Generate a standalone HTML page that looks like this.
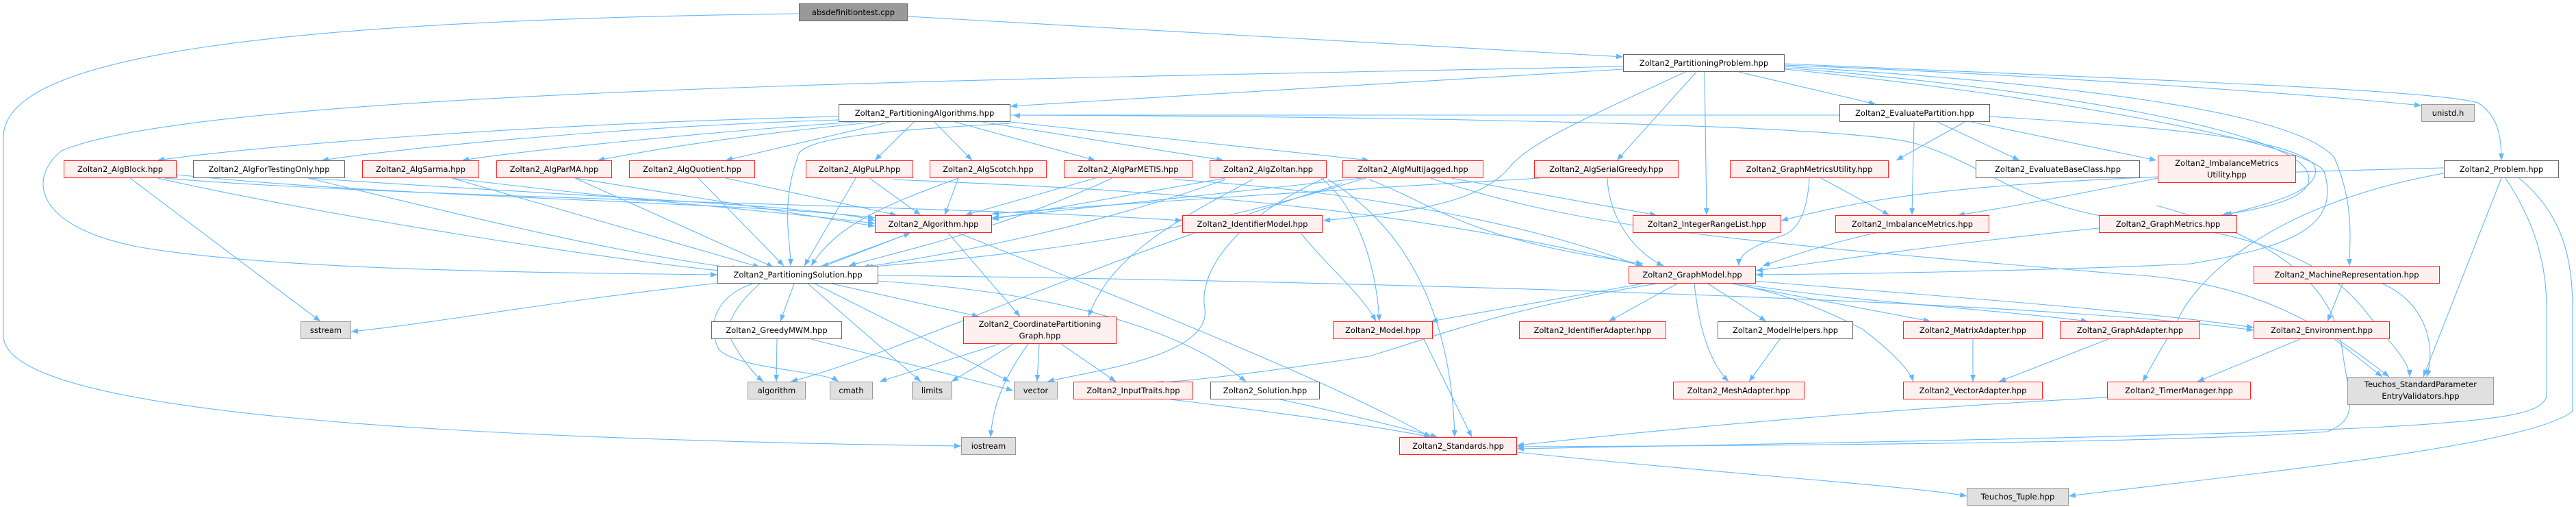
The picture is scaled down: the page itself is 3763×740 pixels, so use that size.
<!DOCTYPE html>
<html><head><meta charset="utf-8"><style>
html,body{margin:0;padding:0;background:#fff;}
#c{position:relative;width:3763px;height:740px;overflow:hidden;font-family:"DejaVu Sans","Liberation Sans",sans-serif;font-size:11.5px;color:#000;}
.n{position:absolute;box-sizing:border-box;height:26px;line-height:24px;text-align:center;white-space:nowrap;border:1.3px solid #666;background:#fff;}
.r{border-color:#ff2020;background:#fff0f0;}
.g{border-color:#999;background:#e0e0e0;}
.d{border-color:#666;background:#999;}
.t{height:40px;line-height:17px;padding-top:2px;}
svg{position:absolute;left:0;top:0;}
</style></head><body><div id="c">
<svg width="3763" height="740" viewBox="0 0 3763 740">
<defs><marker id="a" viewBox="0 0 10 10" refX="10" refY="5" markerWidth="10" markerHeight="10" markerUnits="userSpaceOnUse" orient="auto"><path d="M0,1 L10,5 L0,9 z" fill="#63b8ff"/></marker></defs>
<g fill="none" stroke="#63b8ff" stroke-width="1.1" marker-end="url(#a)">
<path d="M1326 24 L2371 83"/>
<path d="M1167 20 C400 30 5 80 5 200 L5 490 C5 600 600 640 1404 651"/>
<path d="M2371 97 C1500 115 300 130 90 220 C40 260 50 330 200 360 C400 395 800 398 1048 401"/>
<path d="M2371 101 L1476 155"/>
<path d="M2540 105 L2740 152"/>
<path d="M2478 105 L2362 234"/>
<path d="M2490 105 L2493 314"/>
<path d="M2462 105 C2300 180 2230 210 2200 250 C2150 300 2050 310 1933 322"/>
<path d="M2607 95 C3000 110 3400 140 3537 154"/>
<path d="M2607 93 C3100 115 3550 130 3620 150 C3650 170 3654 200 3654 234"/>
<path d="M2607 97 C3000 120 3350 160 3410 230 C3440 300 3432 350 3432 388"/>
<path d="M2607 99 C3000 130 3340 190 3370 250 C3390 290 3300 305 3245 314"/>
<path d="M2607 101 C3000 140 3370 210 3395 250 C3420 330 3350 360 3200 385 C3000 395 2700 400 2565 401"/>
<path d="M1225 170 C800 180 400 210 230 234"/>
<path d="M1225 175 C900 185 600 215 470 234"/>
<path d="M1250 178 C1000 195 750 222 675 234"/>
<path d="M1280 178 C1050 200 920 225 873 234"/>
<path d="M1300 178 L1060 234"/>
<path d="M1335 178 L1278 234"/>
<path d="M1365 178 L1420 234"/>
<path d="M1395 178 L1600 234"/>
<path d="M1435 178 L1787 234"/>
<path d="M1476 178 L2000 234"/>
<path d="M1476 180 C1300 190 1165 200 1165 230 C1140 300 1155 350 1155 388"/>
<path d="M1476 168 C2000 170 2700 180 2800 210 C2900 240 2950 300 3100 320 C3300 340 3400 380 3460 460 C3500 510 3520 530 3520 550"/>
<path d="M2687 168 C2000 165 1500 170 1480 168"/>
<path d="M2870 178 L2770 234"/>
<path d="M2796 178 L2793 314"/>
<path d="M2830 178 L2950 234"/>
<path d="M2870 176 L3150 234"/>
<path d="M2907 170 C3150 185 3340 200 3380 240 C3400 280 3300 300 3250 314"/>
<path d="M2643 260 C2640 320 2620 340 2600 345 C2560 360 2540 370 2540 388"/>
<path d="M2660 260 L2760 314"/>
<path d="M3152 260 C3000 290 2920 305 2860 314"/>
<path d="M2740 340 C2650 360 2600 380 2575 388"/>
<path d="M3066 333 C2800 360 2650 385 2565 395"/>
<path d="M258 255 C600 290 1100 295 1278 318"/>
<path d="M230 260 C500 320 900 380 1060 396"/>
<path d="M240 260 C600 290 1400 300 1727 322"/>
<path d="M190 260 L468 469"/>
<path d="M450 260 C900 290 1200 300 1278 322"/>
<path d="M450 260 C700 320 900 370 1080 392"/>
<path d="M660 260 C900 290 1150 310 1278 326"/>
<path d="M660 260 L1110 390"/>
<path d="M840 260 C1000 285 1150 310 1278 330"/>
<path d="M840 260 L1130 390"/>
<path d="M1060 260 L1310 314"/>
<path d="M1020 260 L1145 388"/>
<path d="M1250 260 L1175 388"/>
<path d="M1270 260 L1345 314"/>
<path d="M1305 262 C1600 275 2000 290 2400 388"/>
<path d="M1400 260 L1380 314"/>
<path d="M1400 260 C1290 300 1220 330 1185 388"/>
<path d="M1600 260 L1410 314"/>
<path d="M1625 260 C1450 340 1300 370 1240 388"/>
<path d="M1715 262 C2000 280 2250 330 2400 390"/>
<path d="M1790 260 L1449 320"/>
<path d="M1790 262 C1600 330 1400 370 1260 390"/>
<path d="M1830 262 C1700 330 1620 380 1590 462"/>
<path d="M1930 260 C1980 300 2010 380 2015 469"/>
<path d="M1935 260 C1800 320 1750 400 1760 450 C1770 520 1600 540 1530 557"/>
<path d="M1940 262 C2050 330 2120 450 2125 638"/>
<path d="M1990 260 L1449 318"/>
<path d="M1995 260 C1700 350 1500 370 1265 390"/>
<path d="M2120 260 L2420 314"/>
<path d="M2090 260 C2300 330 2500 350 3100 400 C3300 410 3400 480 3490 550"/>
<path d="M1960 268 C1600 380 1300 520 1155 557"/>
<path d="M2000 262 C2100 300 2140 350 2400 385"/>
<path d="M2250 260 C1900 280 1600 300 1449 312"/>
<path d="M2348 260 C2350 320 2390 370 2430 388"/>
<path d="M1385 340 L1490 462"/>
<path d="M1400 340 C1700 460 1950 560 2090 638"/>
<path d="M1330 340 L1200 390"/>
<path d="M1200 388 L1330 340"/>
<path d="M1110 414 C1080 440 1060 470 1065 490 C1080 520 1100 545 1115 557"/>
<path d="M1100 414 C1050 430 1030 470 1050 510 C1080 540 1200 540 1225 557"/>
<path d="M1160 414 L1140 469"/>
<path d="M1180 414 L1345 557"/>
<path d="M1190 414 L1475 557"/>
<path d="M1215 414 L1430 462"/>
<path d="M1280 410 C1600 430 1750 500 1820 557"/>
<path d="M1283 402 C2000 410 3000 440 3292 482"/>
<path d="M1060 412 C800 440 650 470 513 484"/>
<path d="M1135 495 L1134 557"/>
<path d="M1185 495 L1480 570"/>
<path d="M1460 502 L1285 557"/>
<path d="M1480 502 L1390 557"/>
<path d="M1518 502 L1515 557"/>
<path d="M1550 502 L1630 557"/>
<path d="M1502 502 C1460 560 1450 600 1447 638"/>
<path d="M1710 583 C1850 600 2000 620 2090 638"/>
<path d="M1870 583 C1950 600 2030 620 2100 638"/>
<path d="M1900 340 C1940 390 1990 430 2010 469"/>
<path d="M2080 495 L2150 638"/>
<path d="M2400 414 L2090 469"/>
<path d="M2420 414 C2200 450 2100 490 2000 520 C1800 550 1700 560 1690 557"/>
<path d="M2450 414 L2350 469"/>
<path d="M2475 414 C2480 460 2490 520 2525 557"/>
<path d="M2495 414 L2580 469"/>
<path d="M2530 414 L2820 469"/>
<path d="M2540 414 C2700 440 2900 450 3050 469"/>
<path d="M2530 414 C2620 430 2680 460 2720 480 C2760 510 2790 540 2795 557"/>
<path d="M2560 410 C2800 430 3100 450 3292 478"/>
<path d="M2600 495 L2555 557"/>
<path d="M2882 495 L2882 557"/>
<path d="M3080 495 L2920 557"/>
<path d="M3422 414 L3400 469"/>
<path d="M3480 414 C3540 440 3560 500 3545 550"/>
<path d="M3360 495 L3210 557"/>
<path d="M3410 495 L3480 550"/>
<path d="M3078 580 C2700 600 2400 630 2216 650"/>
<path d="M3570 245 C3000 260 2800 270 2602 322"/>
<path d="M3575 252 C3300 300 3200 420 3180 470 C3150 520 3140 540 3130 557"/>
<path d="M3654 260 L3540 550"/>
<path d="M3660 260 C3700 320 3720 380 3720 450 L3720 580 C3700 620 3600 630 2216 655"/>
<path d="M3680 260 C3740 310 3758 370 3758 450 L3758 600 C3700 650 3300 690 3022 724"/>
<path d="M3150 300 C3300 340 3400 400 3420 500 C3430 580 3450 610 3400 630 C3200 645 2700 650 2216 652"/>
<path d="M2216 660 C2500 690 2800 710 2873 724"/>
</g></svg>
<div class="n d" style="left:1167px;top:5px;width:159px">absdefinitiontest.cpp</div>
<div class="n" style="left:2371px;top:79px;width:236px">Zoltan2_PartitioningProblem.hpp</div>
<div class="n" style="left:1225px;top:152px;width:251px">Zoltan2_PartitioningAlgorithms.hpp</div>
<div class="n" style="left:2687px;top:152px;width:220px">Zoltan2_EvaluatePartition.hpp</div>
<div class="n g" style="left:3537px;top:152px;width:78px">unistd.h</div>
<div class="n r" style="left:93px;top:234px;width:165px">Zoltan2_AlgBlock.hpp</div>
<div class="n" style="left:282px;top:234px;width:222px">Zoltan2_AlgForTestingOnly.hpp</div>
<div class="n r" style="left:529px;top:234px;width:171px">Zoltan2_AlgSarma.hpp</div>
<div class="n r" style="left:725px;top:234px;width:169px">Zoltan2_AlgParMA.hpp</div>
<div class="n r" style="left:919px;top:234px;width:184px">Zoltan2_AlgQuotient.hpp</div>
<div class="n r" style="left:1177px;top:234px;width:157px">Zoltan2_AlgPuLP.hpp</div>
<div class="n r" style="left:1358px;top:234px;width:171px">Zoltan2_AlgScotch.hpp</div>
<div class="n r" style="left:1554px;top:234px;width:188px">Zoltan2_AlgParMETIS.hpp</div>
<div class="n r" style="left:1767px;top:234px;width:171px">Zoltan2_AlgZoltan.hpp</div>
<div class="n r" style="left:1961px;top:234px;width:206px">Zoltan2_AlgMultiJagged.hpp</div>
<div class="n r" style="left:2241px;top:234px;width:211px">Zoltan2_AlgSerialGreedy.hpp</div>
<div class="n r" style="left:2527px;top:234px;width:232px">Zoltan2_GraphMetricsUtility.hpp</div>
<div class="n" style="left:2886px;top:234px;width:240px">Zoltan2_EvaluateBaseClass.hpp</div>
<div class="n r t" style="left:3152px;top:227px;width:202px">Zoltan2_ImbalanceMetrics<br>Utility.hpp</div>
<div class="n" style="left:3570px;top:234px;width:168px">Zoltan2_Problem.hpp</div>
<div class="n r" style="left:1278px;top:314px;width:171px">Zoltan2_Algorithm.hpp</div>
<div class="n r" style="left:1727px;top:314px;width:205px">Zoltan2_IdentifierModel.hpp</div>
<div class="n r" style="left:2385px;top:314px;width:217px">Zoltan2_IntegerRangeList.hpp</div>
<div class="n r" style="left:2681px;top:314px;width:225px">Zoltan2_ImbalanceMetrics.hpp</div>
<div class="n r" style="left:3066px;top:314px;width:202px">Zoltan2_GraphMetrics.hpp</div>
<div class="n" style="left:1048px;top:388px;width:235px">Zoltan2_PartitioningSolution.hpp</div>
<div class="n r" style="left:2379px;top:388px;width:186px">Zoltan2_GraphModel.hpp</div>
<div class="n r" style="left:3292px;top:388px;width:272px">Zoltan2_MachineRepresentation.hpp</div>
<div class="n g" style="left:439px;top:469px;width:74px">sstream</div>
<div class="n" style="left:1039px;top:469px;width:191px">Zoltan2_GreedyMWM.hpp</div>
<div class="n r t" style="left:1407px;top:462px;width:224px">Zoltan2_CoordinatePartitioning<br>Graph.hpp</div>
<div class="n r" style="left:1947px;top:469px;width:146px">Zoltan2_Model.hpp</div>
<div class="n r" style="left:2219px;top:469px;width:215px">Zoltan2_IdentifierAdapter.hpp</div>
<div class="n" style="left:2509px;top:469px;width:198px">Zoltan2_ModelHelpers.hpp</div>
<div class="n r" style="left:2780px;top:469px;width:204px">Zoltan2_MatrixAdapter.hpp</div>
<div class="n r" style="left:3009px;top:469px;width:205px">Zoltan2_GraphAdapter.hpp</div>
<div class="n r" style="left:3292px;top:469px;width:199px">Zoltan2_Environment.hpp</div>
<div class="n g" style="left:1092px;top:557px;width:85px">algorithm</div>
<div class="n g" style="left:1212px;top:557px;width:63px">cmath</div>
<div class="n g" style="left:1332px;top:557px;width:59px">limits</div>
<div class="n g" style="left:1481px;top:557px;width:64px">vector</div>
<div class="n r" style="left:1568px;top:557px;width:175px">Zoltan2_InputTraits.hpp</div>
<div class="n" style="left:1768px;top:557px;width:160px">Zoltan2_Solution.hpp</div>
<div class="n r" style="left:2444px;top:557px;width:192px">Zoltan2_MeshAdapter.hpp</div>
<div class="n r" style="left:2780px;top:557px;width:204px">Zoltan2_VectorAdapter.hpp</div>
<div class="n r" style="left:3078px;top:557px;width:210px">Zoltan2_TimerManager.hpp</div>
<div class="n g t" style="left:3429px;top:550px;width:214px;height:41px">Teuchos_StandardParameter<br>EntryValidators.hpp</div>
<div class="n g" style="left:1404px;top:638px;width:80px">iostream</div>
<div class="n r" style="left:2044px;top:638px;width:172px">Zoltan2_Standards.hpp</div>
<div class="n g" style="left:2873px;top:712px;width:149px">Teuchos_Tuple.hpp</div>
</div></body></html>
